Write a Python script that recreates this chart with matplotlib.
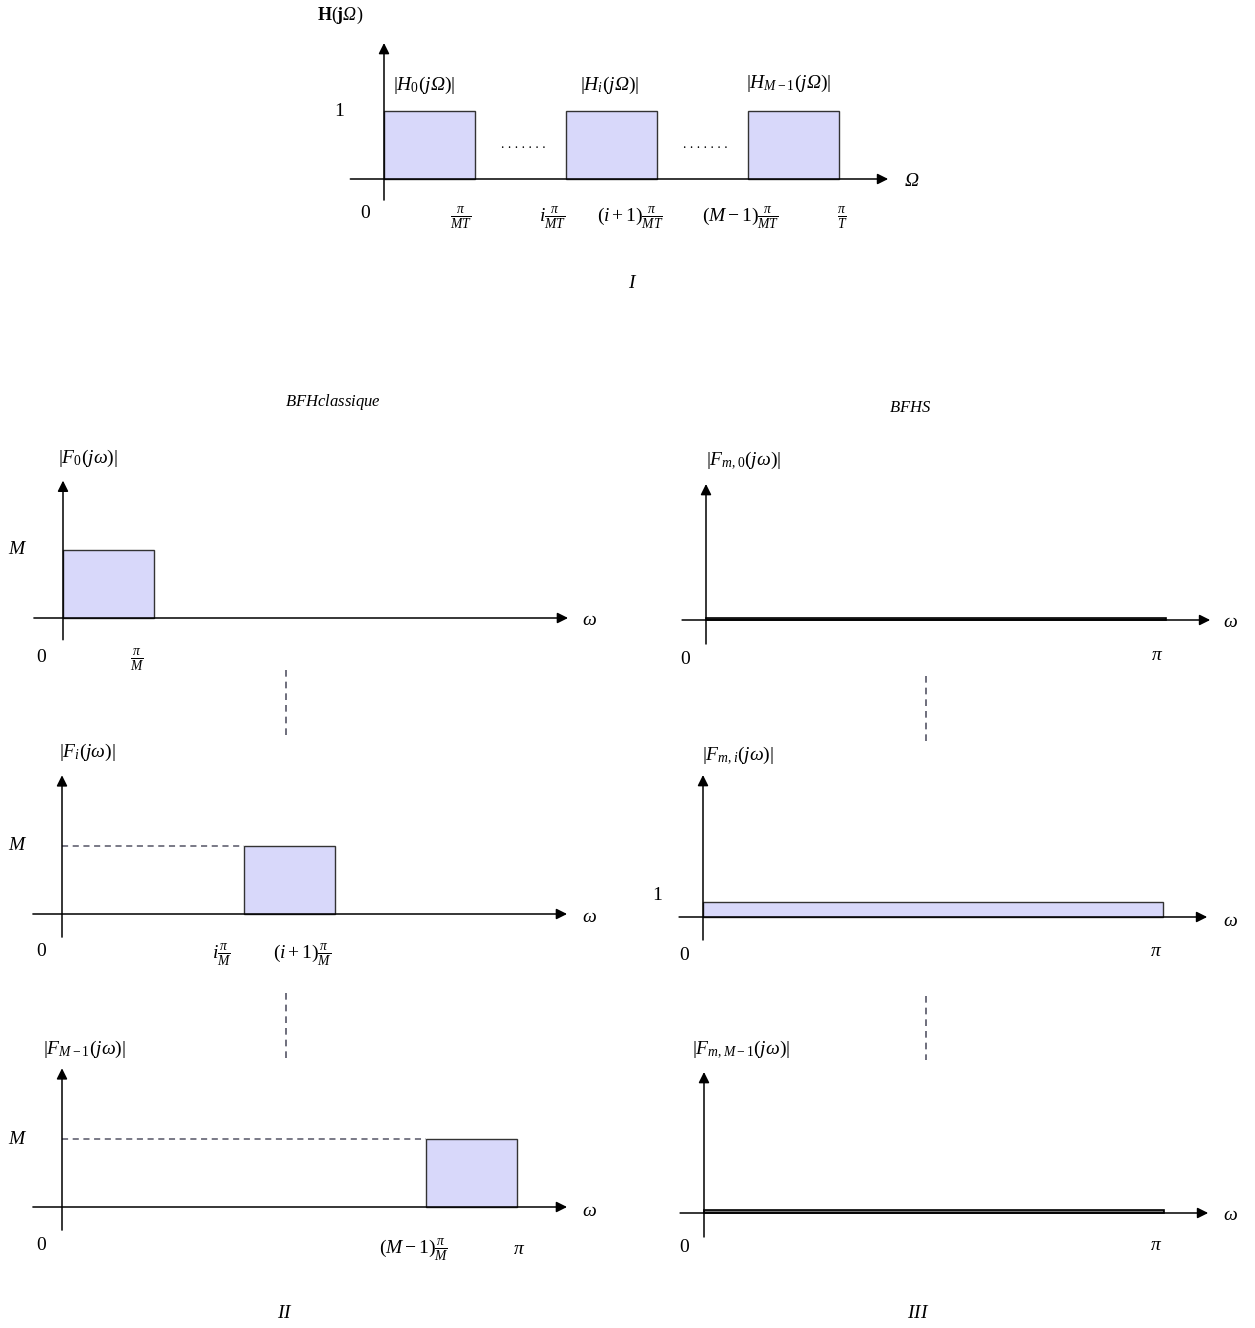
import matplotlib
matplotlib.use("Agg")
import matplotlib.pyplot as plt
from matplotlib.lines import Line2D

plt.rcParams['font.family'] = ['Liberation Serif', 'DejaVu Serif']
plt.rcParams['mathtext.fontset'] = 'custom'
plt.rcParams['mathtext.rm'] = 'Liberation Serif'
plt.rcParams['mathtext.it'] = 'Liberation Serif:italic'
plt.rcParams['mathtext.bf'] = 'Liberation Serif:bold'
plt.rcParams['mathtext.cal'] = 'Liberation Serif:italic'   # pour un Omega italique

W, H = 1255, 1328
FILL = '#d8d8fa'
EDGE = '#333333'
DASH = '#555566'
OM = r'\mathcal{\Omega}'

# données : bandes (en unités de pi/(MT) ou pi/M), hauteurs
h_lo = [0, 2, 4]
h_hi = [1, 3, 5]
h_gain = [1, 1, 1]

classic_lo = [0, 2, 4]
classic_hi = [1, 3, 5]
classic_gain = 5          # M
bfhs_lo = [0, 0, 0]
bfhs_hi = [5, 5, 5]       # pi
bfhs_gain = [0.12, 1, 0.18]

fig = plt.figure(figsize=(W / 100, H / 100), dpi=100)


def make_ax(ox, oy, sx, sy, x0, x1, y0, y1):
    # axe place pour que l'origine tombe sur le pixel (ox, oy)
    left = ox + x0 * sx
    right = ox + x1 * sx
    bottom = H - (oy - y0 * sy)
    top = H - (oy - y1 * sy)
    ax = fig.add_axes([left / W, bottom / H, (right - left) / W, (top - bottom) / H])
    ax.set_xlim(x0, x1)
    ax.set_ylim(y0, y1)
    ax.axis('off')
    ax.annotate('', xy=(x1, 0), xytext=(x0, 0),
                arrowprops=dict(arrowstyle='-|>', color='black', lw=1.1,
                                mutation_scale=16, shrinkA=0, shrinkB=0))
    ax.annotate('', xy=(0, y1), xytext=(0, y0),
                arrowprops=dict(arrowstyle='-|>', color='black', lw=1.1,
                                mutation_scale=16, shrinkA=0, shrinkB=0))
    return ax


def txt(x, y, s, size=14, **kw):
    fig.text(x / W, 1 - y / H, s, fontsize=size, ha='center', va='center', **kw)


def vdash(x, y0, y1):
    fig.add_artist(Line2D([x / W, x / W], [1 - y0 / H, 1 - y1 / H],
                          color=DASH, lw=1.2, ls=(0, (4, 3))))


# ---------- I ----------
ax = make_ax(384, 179, 91, 68, -0.37, 5.54, -0.31, 2.0)
ax.bar(h_lo, h_gain, width=[b - a for a, b in zip(h_lo, h_hi)], align='edge',
       color=FILL, edgecolor=EDGE, lw=1.0, zorder=1)
txt(340, 15, r'$\mathbf{H}(\mathbf{j}' + OM + ')$', 13)
txt(424, 85, r'$|H_0(j' + OM + ')|$')
txt(610, 85, r'$|H_i(j' + OM + ')|$')
txt(789, 83, r'$|H_{M-1}(j' + OM + ')|$')
txt(339, 111, r'$1$')
txt(912, 182, r'$' + OM + '$')
txt(365, 213, r'$0$')
txt(461, 218, r'$\frac{\pi}{MT}$')
txt(553, 218, r'$i\frac{\pi}{MT}$')
txt(630, 218, r'$(i+1)\frac{\pi}{MT}$')
txt(741, 218, r'$(M-1)\frac{\pi}{MT}$')
txt(842, 218, r'$\frac{\pi}{T}$')
txt(523, 144, '. . . . . . .', 10)
txt(705, 144, '. . . . . . .', 10)
txt(633, 283, r'$I$')

txt(333, 402, r'$BFHclassique$', 12)
txt(910, 408, r'$BFHS$', 12)

# ---------- II ----------
left_specs = [(63, 618, -1.6, 10.1), (62, 914, -1.7, 10.2), (62, 1207, -1.7, 10.2)]
for k, (ox, oy, y0, y1) in enumerate(left_specs):
    ax = make_ax(ox, oy, 91, 13.6, -0.32, 5.55, y0, y1)
    ax.bar(classic_lo[k], classic_gain, width=classic_hi[k] - classic_lo[k],
           align='edge', color=FILL, edgecolor=EDGE, lw=1.0, zorder=1)
    if classic_lo[k] > 0:
        ax.plot([0, classic_lo[k]], [classic_gain, classic_gain],
                color=DASH, lw=1.1, ls=(0, (4, 3)))

txt(88, 458, r'$|F_0(j\omega)|$')
txt(18, 550, r'$M$')
txt(589, 621, r'$\omega$')
txt(42, 658, r'$0$')
txt(137, 660, r'$\frac{\pi}{M}$')

txt(87, 752, r'$|F_i(j\omega)|$')
txt(18, 846, r'$M$')
txt(589, 917, r'$\omega$')
txt(42, 952, r'$0$')
txt(222, 955, r'$i\frac{\pi}{M}$')
txt(302, 955, r'$(i+1)\frac{\pi}{M}$')

txt(84, 1049, r'$|F_{M-1}(j\omega)|$')
txt(18, 1140, r'$M$')
txt(589, 1212, r'$\omega$')
txt(42, 1245, r'$0$')
txt(414, 1250, r'$(M-1)\frac{\pi}{M}$')
txt(519, 1250, r'$\pi$')
txt(285, 1313, r'$II$')

vdash(286, 670, 738)
vdash(286, 993, 1058)

# ---------- III ----------
right_specs = [(706, 620, 644, 484), (703, 917, 940, 775), (704, 1213, 1237, 1072)]
for k, (ox, oy, pb, pt) in enumerate(right_specs):
    ax = make_ax(ox, oy, 92, 15, -0.26, 5.48, (oy - pb) / 15, (oy - pt) / 15)
    ax.bar(bfhs_lo[k], bfhs_gain[k], width=bfhs_hi[k] - bfhs_lo[k],
           align='edge', color=FILL if k == 1 else '#777777',
           edgecolor='black' if k != 1 else EDGE, lw=1.2 if k != 1 else 1.0, zorder=1)

txt(744, 461, r'$|F_{m,0}(j\omega)|$')
txt(1230, 622, r'$\omega$')
txt(686, 660, r'$0$')
txt(1157, 656, r'$\pi$')

txt(738, 756, r'$|F_{m,i}(j\omega)|$')
txt(657, 895, r'$1$')
txt(1230, 921, r'$\omega$')
txt(684, 955, r'$0$')
txt(1156, 952, r'$\pi$')

txt(741, 1050, r'$|F_{m,M-1}(j\omega)|$')
txt(1230, 1216, r'$\omega$')
txt(684, 1248, r'$0$')
txt(1156, 1246, r'$\pi$')
txt(918, 1313, r'$III$')

vdash(926, 676, 741)
vdash(926, 996, 1060)

fig.savefig('out.png', dpi=100)
